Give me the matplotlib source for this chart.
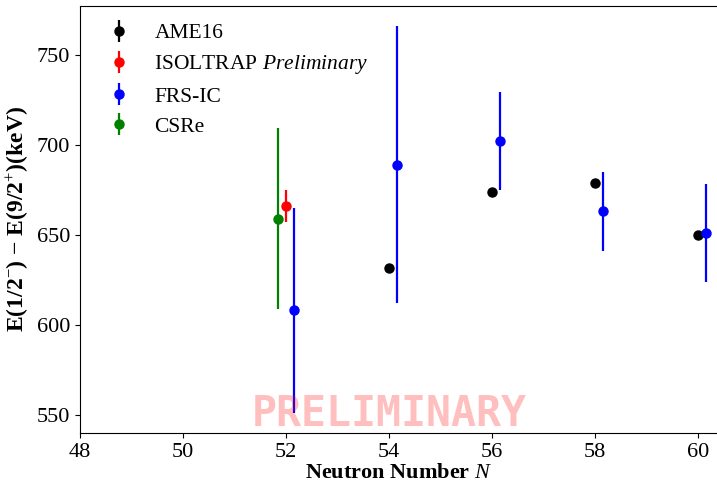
import matplotlib
matplotlib.use("Agg")
import matplotlib.pyplot as plt

plt.rcParams['font.family'] = ['Liberation Serif', 'DejaVu Serif']
plt.rcParams['mathtext.fontset'] = 'custom'
plt.rcParams['mathtext.rm'] = 'Liberation Serif'
plt.rcParams['mathtext.bf'] = 'Liberation Serif:bold'
plt.rcParams['mathtext.it'] = 'Liberation Serif:italic'

# AME16
ame_n = [54, 56, 58, 60]
ame_e = [631.5, 674, 678.5, 650]
ame_err = [1, 1, 1, 1]

# ISOLTRAP preliminary
isol_n = [52.0]
isol_e = [666]
isol_err = [9]

# FRS-IC
frs_n = [52.15, 54.15, 56.15, 58.15, 60.15]
frs_e = [608, 689, 702, 663, 651]
frs_err = [57, 77, 27, 22, 27]

# CSRe
csre_n = [51.85]
csre_e = [659]
csre_err = [50]

fig = plt.figure(figsize=(7.17, 4.87), dpi=100)
ax = fig.add_axes([0.1116, 0.111, 0.8884, 0.8767])

kw = dict(fmt='o', markersize=6.5, elinewidth=1.6, capsize=0)
ax.errorbar(ame_n, ame_e, yerr=ame_err, color='black', label='AME16', **kw)
ax.errorbar(isol_n, isol_e, yerr=isol_err, color='red',
            label=r'ISOLTRAP $\mathit{Preliminary}$', **kw)
ax.errorbar(frs_n, frs_e, yerr=frs_err, color='blue', label='FRS-IC', **kw)
ax.errorbar(csre_n, csre_e, yerr=csre_err, color='green', label='CSRe', **kw)

ax.set_xlim(48, 60.37)
ax.set_ylim(540, 777)
ax.set_xticks([48, 50, 52, 54, 56, 58, 60])
ax.set_yticks([550, 600, 650, 700, 750])
ax.tick_params(labelsize=16)
ax.spines['right'].set_visible(False)

ax.set_xlabel(r'Neutron Number $\mathit{N}$', fontsize=16, fontweight='bold', labelpad=1)
ax.set_ylabel(r'E(1/2$^{-}$) $-$ E(9/2$^{+}$)(keV)', fontsize=17, fontweight='bold',
              labelpad=4)

ax.legend(loc='upper left', frameon=False, fontsize=15.5, handletextpad=0.65,
          borderaxespad=0.4, labelspacing=0.47, borderpad=0.4)

ax.text(54.0, 544, 'PRELIMINARY', fontsize=30, fontweight='bold',
        family='DejaVu Sans Mono', color='red', alpha=0.25,
        ha='center', va='baseline')

fig.savefig('out.png', dpi=100)
